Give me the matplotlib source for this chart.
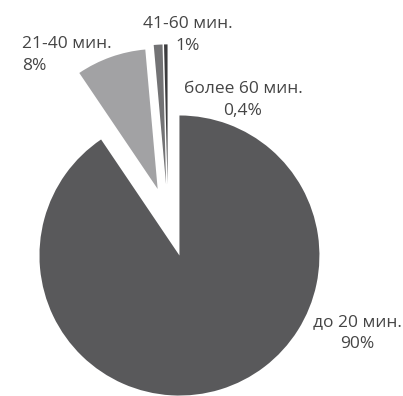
import matplotlib.pyplot as plt

# Travel time shares
labels = ['до 20 мин.', '21-40 мин.', '41-60 мин.', 'более 60 мин.']
pct_text = ['90%', '8%', '1%', '0,4%']
shares = [90, 8, 1, 0.4]

colors = ['#59595b', '#a2a2a4', '#737375', '#3c3c3e']
explode = [0.28, 0.22, 0.24, 0.24]

plt.rcParams['font.family'] = ['Open Sans', 'DejaVu Sans']

fig = plt.figure(figsize=(4.03, 3.96), dpi=100)
ax = fig.add_axes([0, 0, 1, 1])

ax.pie(shares, colors=colors, explode=explode, startangle=90,
       counterclock=False, radius=1.0, wedgeprops=dict(linewidth=0))

ax.set_xlim(-1.2, 1.679)
ax.set_ylim(-1.271, 1.557)
ax.set_aspect('auto')
ax.axis('off')

txt = dict(color='#454545', fontsize=12.5, linespacing=1.5)
ax.text(1.35, -0.82, labels[0] + '\n' + pct_text[0], ha='center', va='center', **txt)
ax.text(-1.043, 1.164, labels[1] + '\n' + pct_text[1], ha='left', va='center', **txt)
ax.text(0.143, 1.31, labels[2] + '\n' + pct_text[2], ha='center', va='center', **txt)
ax.text(0.536, 0.843, labels[3] + '\n' + pct_text[3], ha='center', va='center', **txt)

fig.savefig('out.png', dpi=100)
